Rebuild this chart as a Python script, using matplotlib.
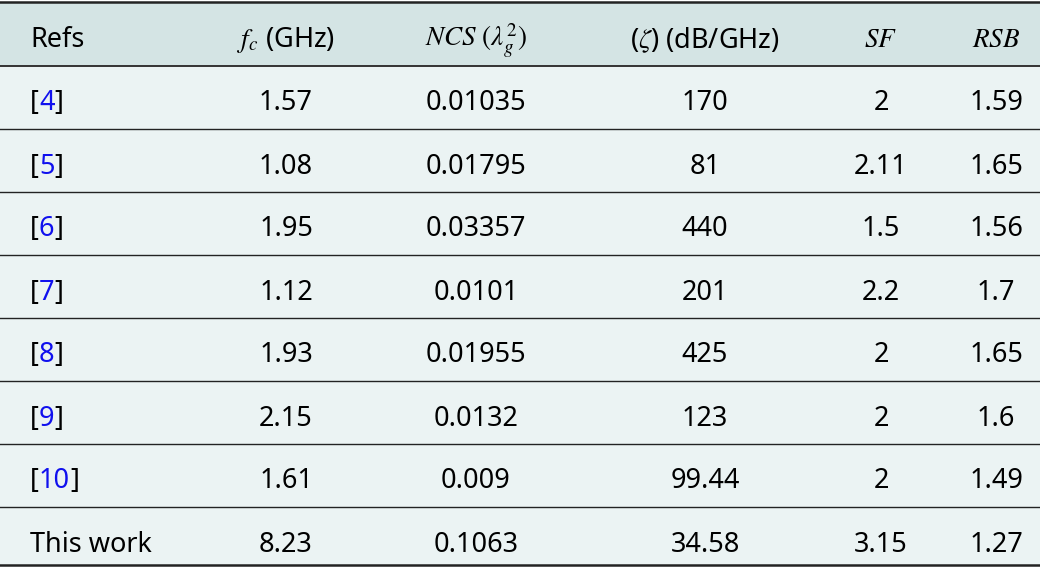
import matplotlib
matplotlib.use("Agg")
import matplotlib.pyplot as plt

plt.rcParams['font.family'] = ['Noto Sans', 'DejaVu Sans']
plt.rcParams['mathtext.fontset'] = 'stix'

# Table content
headers = ["Refs", r"$f_c$ (GHz)", r"$NCS\ (\lambda_g^2)$", r"($\zeta$) (dB/GHz)", r"$SF$", r"$RSB$"]
refs = ["4", "5", "6", "7", "8", "9", "10", "This work"]
fc = ["1.57", "1.08", "1.95", "1.12", "1.93", "2.15", "1.61", "8.23"]
ncs = ["0.01035", "0.01795", "0.03357", "0.0101", "0.01955", "0.0132", "0.009", "0.1063"]
zeta = ["170", "81", "440", "201", "425", "123", "99.44", "34.58"]
sf = ["2", "2.11", "1.5", "2.2", "2", "2", "2", "3.15"]
rsb = ["1.59", "1.65", "1.56", "1.7", "1.65", "1.6", "1.49", "1.27"]

fig = plt.figure(figsize=(10.4, 5.67), dpi=100)
ax = fig.add_axes([0, 0, 1, 1])
ax.set_xlim(0, 1040)
ax.set_ylim(567, 0)
ax.axis('off')

head_bg = '#d4e4e4'
body_bg = '#ebf3f3'
line_col = '#222222'
blue = '#1010ee'
fs = 19.5

top = 2
head_bot = 66
row_h = 63.0
bottom = 564.5
n = len(refs)

ax.axhspan(top, head_bot, color=head_bg, lw=0)
ax.axhspan(head_bot, bottom, color=body_bg, lw=0)

ax.axhline(top, color=line_col, lw=1.8)
ax.axhline(bottom, color=line_col, lw=1.8)
ax.axhline(head_bot, color='#333333', lw=1.4)
for i in range(1, n):
    ax.axhline(head_bot + i * row_h, color=line_col, lw=1.0)

col_x = [30, 286, 476, 705, 881, 996]

hy = 40
ax.text(col_x[0], hy, headers[0], fontsize=fs, ha='left', va='center')
for j in range(1, 6):
    ax.text(col_x[j], hy, headers[j], fontsize=fs, ha='center', va='center')

cols = [fc, ncs, zeta, sf, rsb]
for i in range(n):
    y = head_bot + i * row_h + 37.5
    if refs[i].isdigit():
        t = ax.text(col_x[0], y, "[", fontsize=fs, ha='left', va='center')
        t2 = ax.annotate(refs[i], xy=(1, 0), xycoords=t, fontsize=fs,
                         ha='left', va='bottom', color=blue)
        ax.annotate("]", xy=(1, 0), xycoords=t2, fontsize=fs,
                    ha='left', va='bottom')
    else:
        ax.text(col_x[0], y, refs[i], fontsize=fs, ha='left', va='center')
    for j, c in enumerate(cols):
        ax.text(col_x[j + 1], y, c[i], fontsize=fs, ha='center', va='center')

fig.savefig("out.png", dpi=100)
